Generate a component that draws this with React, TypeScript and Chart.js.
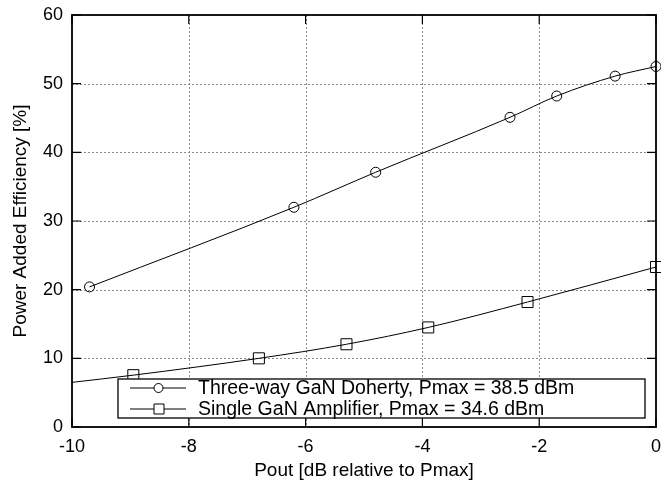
import React, { useEffect, useRef } from 'react';
import { Chart, registerables } from 'chart.js';

Chart.register(...registerables);

const dohertyPout = [-9.7, -6.2, -4.8, -2.5, -1.7, -0.7, 0];
const dohertyPae = [20.4, 32.0, 37.1, 45.1, 48.2, 51.1, 52.5];
// first entry is where the fitted curve enters the plot (no marker)
const singlePout = [-10, -8.95, -6.8, -5.3, -3.9, -2.2, 0];
const singlePae = [6.5, 7.55, 10.0, 12.05, 14.5, 18.2, 23.3];

const seriesLabels = [
  'Three-way GaN Doherty, Pmax = 38.5 dBm',
  'Single GaN Amplifier, Pmax = 34.6 dBm',
];
const xTitle = 'Pout [dB relative to Pmax]';
const yTitle = 'Power Added Efficiency [%]';

const FONT = "'Liberation Sans', Arial, sans-serif";

// dotted grid, inward ticks on all four sides and the box, drawn under the data
const framePlugin = {
  id: 'frame',
  beforeDatasetsDraw(chart: any) {
    const { ctx, chartArea: a, scales } = chart;
    const x = scales.x, y = scales.y;
    ctx.save();
    ctx.strokeStyle = '#8a8a8a';
    ctx.lineWidth = 1;
    ctx.setLineDash([2, 2]);
    ctx.beginPath();
    x.ticks.forEach((t: any) => {
      const px = Math.round(x.getPixelForValue(t.value)) + 0.5;
      if (px < a.left + 2 || px > a.right - 2) return;
      ctx.moveTo(px, a.top);
      ctx.lineTo(px, a.bottom);
    });
    y.ticks.forEach((t: any) => {
      const py = Math.round(y.getPixelForValue(t.value)) + 0.5;
      if (py < a.top + 2 || py > a.bottom - 2) return;
      ctx.moveTo(a.left, py);
      ctx.lineTo(a.right, py);
    });
    ctx.stroke();

    const tl = 9;
    ctx.setLineDash([]);
    ctx.strokeStyle = '#000';
    ctx.lineWidth = 1.2;
    ctx.beginPath();
    x.ticks.forEach((t: any) => {
      const px = x.getPixelForValue(t.value);
      ctx.moveTo(px, a.bottom);
      ctx.lineTo(px, a.bottom - tl);
      ctx.moveTo(px, a.top);
      ctx.lineTo(px, a.top + tl);
    });
    y.ticks.forEach((t: any) => {
      const py = y.getPixelForValue(t.value);
      ctx.moveTo(a.left, py);
      ctx.lineTo(a.left + tl, py);
      ctx.moveTo(a.right, py);
      ctx.lineTo(a.right - tl, py);
    });
    ctx.stroke();
    ctx.lineWidth = 1.8;
    ctx.strokeRect(a.left, a.top, a.right - a.left, a.bottom - a.top);
    ctx.restore();
  },
};

const legendPlugin = {
  id: 'insideLegend',
  afterDraw(chart: any) {
    const { ctx, chartArea: a } = chart;
    const left = a.left + 46;
    const right = a.right - 11;
    const bottom = a.bottom - 9;
    const top = bottom - 39;
    ctx.save();
    ctx.fillStyle = '#fff';
    ctx.fillRect(left, top, right - left, bottom - top);
    ctx.strokeStyle = '#000';
    ctx.lineWidth = 1.3;
    ctx.strokeRect(left, top, right - left, bottom - top);
    ctx.font = `19.5px ${FONT}`;
    ctx.textBaseline = 'middle';
    ctx.fillStyle = '#000';
    const rows = [top + 9, top + 30];
    chart.data.datasets.forEach((ds: any, i: number) => {
      const ry = rows[i];
      ctx.lineWidth = 1;
      ctx.beginPath();
      ctx.moveTo(left + 12, ry);
      ctx.lineTo(left + 68, ry);
      ctx.stroke();
      ctx.fillStyle = '#fff';
      ctx.beginPath();
      if (ds.pointStyle === 'rect') {
        ctx.rect(left + 36, ry - 5, 10, 10);
      } else {
        ctx.arc(left + 40.5, ry, 4.5, 0, Math.PI * 2);
      }
      ctx.fill();
      ctx.stroke();
      ctx.fillStyle = '#000';
      ctx.fillText(ds.label, left + 80, ry + 0.5);
    });
    ctx.restore();
  },
};

const noOverhang = (s: any) => {
  s.paddingLeft = 0;
  s.paddingRight = 0;
  s.paddingTop = 0;
  s.paddingBottom = 0;
};

const App = () => {
  const canvasRef = useRef<HTMLCanvasElement>(null);

  useEffect(() => {
    if (canvasRef.current == null) return;
    const ctx = canvasRef.current.getContext('2d');
    if (ctx == null) return;

    const chart = new Chart(ctx, {
      type: 'line',
      data: {
        datasets: [
          {
            label: seriesLabels[0],
            data: dohertyPout.map((v, i) => ({ x: v, y: dohertyPae[i] })),
            borderColor: '#000',
            borderWidth: 1,
            backgroundColor: 'rgba(0,0,0,0)',
            pointStyle: 'circle',
            pointRadius: 5,
            pointBorderWidth: 1,
            pointBorderColor: '#000',
            pointBackgroundColor: 'rgba(0,0,0,0)',
            cubicInterpolationMode: 'monotone',
            clip: false,
          },
          {
            label: seriesLabels[1],
            data: singlePout.map((v, i) => ({ x: v, y: singlePae[i] })),
            borderColor: '#000',
            borderWidth: 1,
            backgroundColor: 'rgba(0,0,0,0)',
            pointStyle: 'rect',
            pointRadius: (c: any) => (c.dataIndex === 0 ? 0 : 7.8),
            pointBorderWidth: 1,
            pointBorderColor: '#000',
            pointBackgroundColor: 'rgba(0,0,0,0)',
            cubicInterpolationMode: 'monotone',
            clip: false,
          },
        ],
      },
      options: {
        responsive: true,
        maintainAspectRatio: false,
        animation: false,
        events: [],
        layout: { autoPadding: false, padding: { top: 15, right: 5, left: 0, bottom: 0 } },
        plugins: {
          legend: { display: false },
          tooltip: { enabled: false },
        },
        scales: {
          x: {
            type: 'linear',
            min: -10,
            max: 0,
            grid: { display: false, drawTicks: false },
            border: { display: false },
            ticks: {
              stepSize: 2,
              padding: 9,
              color: '#000',
              font: { family: FONT, size: 18 },
              maxRotation: 0,
            },
            title: {
              display: true,
              text: xTitle,
              color: '#000',
              font: { family: FONT, size: 19 },
              padding: { top: 0, bottom: 4 },
            },
            afterFit: (s: any) => {
              s.height = 59;
              noOverhang(s);
            },
          },
          y: {
            type: 'linear',
            min: 0,
            max: 60,
            grid: { display: false, drawTicks: false },
            border: { display: false },
            ticks: {
              stepSize: 10,
              padding: 9,
              color: '#000',
              font: { family: FONT, size: 18 },
            },
            title: {
              display: true,
              text: yTitle,
              color: '#000',
              font: { family: FONT, size: 19 },
              padding: { top: 9, bottom: 0 },
            },
            afterFit: (s: any) => {
              s.width = 72;
              noOverhang(s);
            },
          },
        },
      },
      plugins: [framePlugin, legendPlugin],
    });

    return () => {
      chart.destroy();
    };
  }, []);

  return (
    <div style={{ position: 'absolute', left: 0, top: 0, width: 661, height: 486, background: '#fff' }}>
      <canvas ref={canvasRef} />
    </div>
  );
};

export default App;
